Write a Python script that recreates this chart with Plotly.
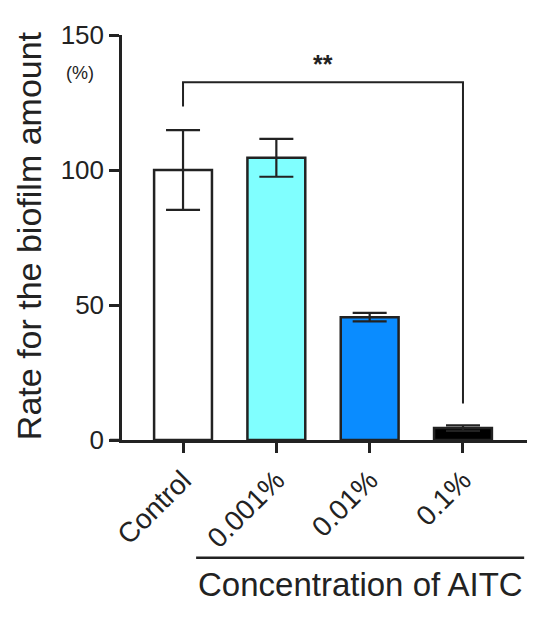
import plotly.graph_objects as go

# data
groups = ["Control", "0.001%", "0.01%", "0.1%"]
rate = [100, 104.5, 45.5, 4.4]
sd = [14.8, 7.0, 1.6, 1.0]
bar_colors = ["#ffffff", "#80ffff", "#0a8cff", "#000000"]
y_ticks = [0, 50, 100, 150]
sig_label = "**"
sig_pair = [0, 3]
sig_legs = [123.5, 132.5, 13.5]  # left leg bottom, bracket top, right leg bottom

ink = "#222222"
font = "Liberation Sans, Arial, sans-serif"
xpos = list(range(len(groups)))

fig = go.Figure()
fig.add_trace(go.Bar(
    x=xpos, y=rate, width=0.62,
    marker=dict(color=bar_colors, line=dict(color=ink, width=2.5)),
    error_y=dict(type="data", array=sd, visible=True, color=ink, thickness=2.2, width=17),
    showlegend=False,
))

# significance bracket
a, b = sig_pair
fig.add_shape(type="path",
              path=f"M {a},{sig_legs[0]} L {a},{sig_legs[1]} L {b},{sig_legs[1]} L {b},{sig_legs[2]}",
              line=dict(color=ink, width=2), xref="x", yref="y")
fig.add_annotation(x=(a + b) / 2, y=sig_legs[1] + 1, text="<b>" + sig_label + "</b>",
                   showarrow=False, yanchor="bottom", font=dict(size=25, color=ink, family=font))

# small overhang of x axis left of the y axis
fig.add_shape(type="line", xref="paper", yref="y", x0=-0.03, x1=0, y0=0, y1=0,
              line=dict(color=ink, width=2.5))

# (%) unit under the top tick
fig.add_annotation(xref="paper", yref="paper", x=-0.104, y=0.906, text="(%)",
                   xanchor="center", yanchor="middle",
                   showarrow=False, font=dict(size=18, color=ink, family=font))

# y title
fig.add_annotation(xref="paper", yref="paper", x=-0.228, y=0.505, text="Rate for the biofilm amount",
                   xanchor="center", yanchor="middle",
                   textangle=-90, showarrow=False, font=dict(size=34, color=ink, family=font))

# AITC group line and label
fig.add_shape(type="line", xref="paper", yref="paper", x0=0.183, x1=0.993, y0=-0.291, y1=-0.291,
              line=dict(color=ink, width=2.5))
fig.add_annotation(xref="paper", yref="paper", x=0.588, y=-0.358, text="Concentration of AITC",
                   xanchor="center", yanchor="middle",
                   showarrow=False, font=dict(size=33, color=ink, family=font))

fig.update_xaxes(
    range=[-0.654, 3.686], tickmode="array", tickvals=xpos, ticktext=groups,
    tickangle=-45, ticks="outside", ticklen=10, tickwidth=2.5, tickcolor=ink,
    showline=True, linewidth=2.5, linecolor=ink, showgrid=False, zeroline=False,
    tickfont=dict(size=28, color=ink, family=font),
)
fig.update_yaxes(
    range=[0, 150], tickvals=y_ticks, ticks="outside", ticklen=10, tickwidth=2.5, tickcolor=ink,
    showline=True, linewidth=2.5, linecolor=ink, showgrid=False, zeroline=False,
    tickfont=dict(size=26, color=ink, family=font),
)
# page body adds 8px, so the margins are shifted back by that much
fig.update_layout(
    width=550, height=622, margin=dict(l=114, r=31, t=27, b=190),
    plot_bgcolor="white", paper_bgcolor="white",
)

fig.write_html("out.html")
